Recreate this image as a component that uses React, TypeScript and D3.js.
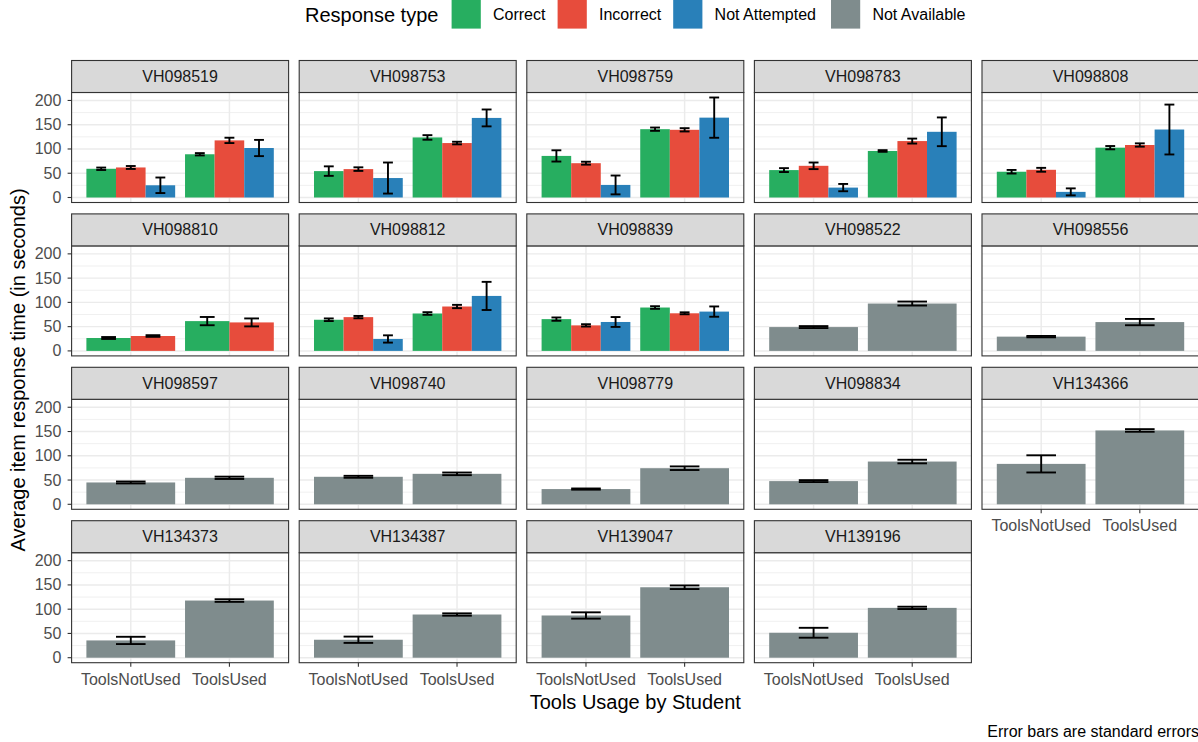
import React from "react";
import * as d3 from "d3";

// ---------------- DATA ----------------
const items = [
  "VH098519", "VH098753", "VH098759", "VH098783", "VH098808",
  "VH098810", "VH098812", "VH098839", "VH098522", "VH098556",
  "VH098597", "VH098740", "VH098779", "VH098834", "VH134366",
  "VH134373", "VH134387", "VH139047", "VH139196",
];
const tools = ["ToolsNotUsed", "ToolsUsed"];
const responseTypes = ["Correct", "Incorrect", "Not Attempted", "Not Available"];
const responseColors = ["#27AE60", "#E74C3C", "#2980B9", "#7F8C8D"];
const yMajorTicks = [0, 50, 100, 150, 200];
const yMinorTicks = [25, 75, 125, 175];

type Pair = [number, number] | null;

// values per item: [ToolsNotUsed, ToolsUsed]
const correctMean: Pair[] = [
  [59.2, 89.1], [54.4, 123.8], [85.7, 140.8], [56.5, 95.9], [53.1, 102.7],
  [26.6, 61.4], [64.2, 77.1], [65.5, 89.4], null, null,
  null, null, null, null, null, null, null, null, null,
];
const correctSE: Pair[] = [
  [2.5, 2.4], [9.8, 4.7], [11.6, 3.4], [4.0, 1.7], [3.7, 3.4],
  [2.0, 8.5], [2.7, 2.7], [3.4, 2.7], null, null,
  null, null, null, null, null, null, null, null, null,
];
const incorrectMean: Pair[] = [
  [61.9, 117.7], [58.5, 112.2], [70.7, 139.5], [65.3, 116.3], [57.1, 108.2],
  [30.7, 58.7], [69.6, 91.5], [52.6, 77.5], null, null,
  null, null, null, null, null, null, null, null, null,
];
const incorrectSE: Pair[] = [
  [3.0, 5.5], [3.7, 2.7], [3.0, 3.4], [6.8, 5.1], [4.0, 3.4],
  [1.7, 8.2], [2.4, 3.4], [2.4, 2.0], null, null,
  null, null, null, null, null, null, null, null, null,
];
const notAttemptedMean: Pair[] = [
  [25.2, 102.0], [40.1, 164.0], [25.9, 164.6], [20.4, 135.4], [11.6, 140.1],
  null, [24.6, 113.3], [59.6, 81.0], null, null,
  null, null, null, null, null, null, null, null, null,
];
const notAttemptedSE: Pair[] = [
  [16.0, 16.7], [32.0, 17.4], [19.4, 41.5], [7.5, 29.6], [7.2, 51.4],
  null, [7.5, 29.0], [10.2, 10.6], null, null,
  null, null, null, null, null, null, null, null, null,
];
const notAvailableMean: Pair[] = [
  null, null, null, null, null, null, null, null,
  [49.1, 97.6], [29.4, 59.4], [45.0, 54.6], [56.7, 62.8], [31.4, 74.4],
  [47.8, 88.1], [83.3, 152.2], [35.6, 117.8], [37.0, 89.0], [87.0, 145.2],
  [51.4, 102.7],
];
const notAvailableSE: Pair[] = [
  null, null, null, null, null, null, null, null,
  [2.0, 4.1], [1.4, 6.5], [2.0, 2.4], [2.0, 2.7], [1.2, 3.7],
  [2.0, 3.7], [17.7, 2.7], [7.5, 2.7], [6.5, 2.4], [6.5, 3.7],
  [10.2, 2.4],
];

const meansByType = [correctMean, incorrectMean, notAttemptedMean, notAvailableMean];
const seByType = [correctSE, incorrectSE, notAttemptedSE, notAvailableSE];

// ---------------- LAYOUT ----------------
const W = 1198;
const H = 742;
const NCOL = 5;
const panelLeft0 = 71.6;
const panelStepX = 227.6;
const panelW = 217;
const rowTop0 = 60.5;
const rowStep = 153.4;
const stripH = 32;
const panelH = 110;
const FONT = "'Liberation Sans', Arial, Helvetica, sans-serif";

const legendTitleX = 305;
const legendKeyX = [451.6, 557.6, 673.2, 831];
const legendKeyW = 29.2;
const legendKeyH = 28.6;

// y domain like ggplot: data range [0, max(mean+se)] expanded 5%
const yMax = d3.max(
  meansByType.flatMap((arr, ti) =>
    arr.flatMap((p, i) => (p ? p.map((m, k) => m + (seByType[ti][i] as [number, number])[k]) : []))
  )
) as number;
const yRange = yMax - 0;
const yDomain: [number, number] = [0 - 0.05 * yRange, yMax + 0.05 * yRange];

export default function App() {
  const panels = items.map((name, p) => {
    const col = p % NCOL;
    const row = Math.floor(p / NCOL);
    const left = panelLeft0 + col * panelStepX;
    const top = rowTop0 + row * rowStep;
    const pTop = top + stripH;
    const pBottom = pTop + panelH;
    const x = d3.scaleLinear().domain([0.4, 2.6]).range([left, left + panelW]);
    const y = d3.scaleLinear().domain(yDomain).range([pBottom, pTop]);
    const present = responseTypes
      .map((_, ti) => ti)
      .filter((ti) => meansByType[ti][p] !== null);
    const n = present.length;
    const barW = 0.9 / n;
    const errW = 0.3 / n;
    const showX = p + NCOL >= items.length;
    const showY = col === 0;

    return (
      <g key={name}>
        {/* panel background */}
        <rect x={left} y={pTop} width={panelW} height={panelH} fill="#FFFFFF" />
        {/* minor grid */}
        {yMinorTicks.map((t) => (
          <line key={"mi" + t} x1={left} x2={left + panelW} y1={y(t)} y2={y(t)} stroke="#EBEBEB" strokeWidth={0.75} />
        ))}
        {/* major grid */}
        {yMajorTicks.map((t) => (
          <line key={"ma" + t} x1={left} x2={left + panelW} y1={y(t)} y2={y(t)} stroke="#EBEBEB" strokeWidth={1.45} />
        ))}
        {tools.map((tn, k) => (
          <line key={"vx" + tn} x1={x(k + 1)} x2={x(k + 1)} y1={pTop} y2={pBottom} stroke="#EBEBEB" strokeWidth={1.45} />
        ))}
        {/* bars */}
        {tools.map((tn, k) =>
          present.map((ti, j) => {
            const m = (meansByType[ti][p] as [number, number])[k];
            const cx = k + 1 - 0.45 + barW * (j + 0.5);
            return (
              <rect
                key={"b" + tn + ti}
                x={x(cx - barW / 2)}
                width={x(cx + barW / 2) - x(cx - barW / 2)}
                y={y(m)}
                height={y(0) - y(m)}
                fill={responseColors[ti]}
              />
            );
          })
        )}
        {/* error bars */}
        {tools.map((tn, k) =>
          present.map((ti, j) => {
            const m = (meansByType[ti][p] as [number, number])[k];
            const s = (seByType[ti][p] as [number, number])[k];
            const cx = k + 1 - 0.45 + barW * (j + 0.5);
            const x0 = x(cx - errW / 2);
            const x1 = x(cx + errW / 2);
            const yl = y(m - s);
            const yh = y(m + s);
            return (
              <g key={"e" + tn + ti} stroke="#000000" strokeWidth={1.9} fill="none">
                <line x1={x0} x2={x1} y1={yh} y2={yh} />
                <line x1={x0} x2={x1} y1={yl} y2={yl} />
                <line x1={x(cx)} x2={x(cx)} y1={yh} y2={yl} />
              </g>
            );
          })
        )}
        {/* panel border */}
        <rect x={left} y={pTop} width={panelW} height={panelH} fill="none" stroke="#333333" strokeWidth={1.1} />
        {/* strip */}
        <rect x={left} y={top} width={panelW} height={stripH} fill="#D9D9D9" stroke="#333333" strokeWidth={1.1} />
        <text
          x={left + panelW / 2}
          y={top + stripH / 2}
          textAnchor="middle"
          dominantBaseline="central"
          fontSize={16}
          fill="#1A1A1A"
          fontFamily={FONT}
        >
          {name}
        </text>
        {/* y axis */}
        {showY &&
          yMajorTicks.map((t) => (
            <g key={"yt" + t}>
              <line x1={left - 4} x2={left} y1={y(t)} y2={y(t)} stroke="#333333" strokeWidth={1.1} />
              <text
                x={left - 10.2}
                y={y(t)}
                textAnchor="end"
                dominantBaseline="central"
                fontSize={16}
                fill="#4D4D4D"
                fontFamily={FONT}
              >
                {t}
              </text>
            </g>
          ))}
        {/* x axis */}
        {showX &&
          tools.map((tn, k) => (
            <g key={"xt" + tn}>
              <line x1={x(k + 1)} x2={x(k + 1)} y1={pBottom} y2={pBottom + 4} stroke="#333333" strokeWidth={1.1} />
              <text
                x={x(k + 1)}
                y={pBottom + 16.4}
                textAnchor="middle"
                dominantBaseline="central"
                fontSize={16}
                fill="#4D4D4D"
                fontFamily={FONT}
              >
                {tn}
              </text>
            </g>
          ))}
      </g>
    );
  });

  return (
    <svg
      width={W}
      height={H}
      viewBox={`0 0 ${W} ${H}`}
      style={{ position: "absolute", left: 0, top: 0, display: "block", background: "#FFFFFF" }}
      fontFamily={FONT}
    >
      <rect x={0} y={0} width={W} height={H} fill="#FFFFFF" />
      {/* legend */}
      <text x={legendTitleX} y={14.5} dominantBaseline="central" fontSize={20} fill="#000000">
        Response type
      </text>
      {responseTypes.map((rt, i) => (
        <g key={rt}>
          <rect x={legendKeyX[i]} y={0} width={legendKeyW} height={legendKeyH} fill={responseColors[i]} />
          <text
            x={legendKeyX[i] + legendKeyW + 12.2}
            y={14.5}
            dominantBaseline="central"
            fontSize={16}
            fill="#000000"
          >
            {rt}
          </text>
        </g>
      ))}
      {panels}
      {/* axis titles */}
      <text
        x={(panelLeft0 + (panelLeft0 + (NCOL - 1) * panelStepX + panelW)) / 2}
        y={702}
        textAnchor="middle"
        dominantBaseline="central"
        fontSize={20}
        fill="#000000"
      >
        Tools Usage by Student
      </text>
      <text
        transform={`translate(17.5, 370) rotate(-90)`}
        textAnchor="middle"
        dominantBaseline="central"
        fontSize={20}
        fill="#000000"
      >
        Average item response time (in seconds)
      </text>
      <text x={1199} y={731.5} textAnchor="end" dominantBaseline="central" fontSize={16} fill="#000000">
        Error bars are standard errors
      </text>
    </svg>
  );
}
